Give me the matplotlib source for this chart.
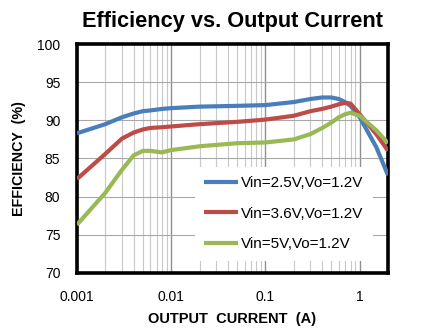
import numpy as np
import matplotlib
matplotlib.use('Agg')
from matplotlib import pyplot as plt
from matplotlib.ticker import LogLocator, FixedLocator, NullFormatter

plt.rcParams['font.family'] = ['Liberation Sans', 'DejaVu Sans']

# данные
current = [0.001, 0.002, 0.003, 0.004, 0.005, 0.006, 0.008, 0.01, 0.02, 0.05,
           0.1, 0.2, 0.3, 0.4, 0.5, 0.6, 0.7, 0.8, 1.0, 1.5, 2.0]
eff_25 = [88.3, 89.5, 90.4, 90.9, 91.2, 91.3, 91.5, 91.6, 91.8, 91.9,
          92.0, 92.4, 92.8, 93.0, 93.0, 92.8, 92.4, 91.9, 90.4, 86.5, 82.8]
eff_36 = [82.3, 85.6, 87.6, 88.4, 88.8, 89.0, 89.1, 89.2, 89.5, 89.8,
          90.1, 90.6, 91.2, 91.5, 91.8, 92.1, 92.3, 92.2, 90.8, 88.2, 86.0]
eff_5 = [76.3, 80.5, 83.5, 85.4, 86.0, 86.0, 85.8, 86.1, 86.6, 87.0,
         87.1, 87.5, 88.2, 89.0, 89.7, 90.4, 90.8, 91.0, 90.6, 88.7, 87.0]
labels = ['Vin=2.5V,Vo=1.2V', 'Vin=3.6V,Vo=1.2V', 'Vin=5V,Vo=1.2V']
colors = ['#4a7ebb', '#be4b48', '#98b954']

fig = plt.figure(figsize=(4.25, 3.34), dpi=100)
ax = fig.add_axes([0.181, 0.183, 0.732, 0.685])

for y, lab, c in zip([eff_25, eff_36, eff_5], labels, colors):
    ax.plot(current, y, color=c, lw=3, label=lab, solid_capstyle='butt',
            solid_joinstyle='round', zorder=3)

ax.set_xscale('log')
ax.set_xlim(0.001, 2)
ax.set_ylim(70, 100)
ax.set_yticks(range(70, 101, 5))
ax.xaxis.set_major_locator(FixedLocator([0.001, 0.01, 0.1, 1]))
ax.set_xticklabels(['0.001', '0.01', '0.1', '1'])
ax.xaxis.set_minor_locator(LogLocator(base=10, subs=np.arange(2, 10)))
ax.xaxis.set_minor_formatter(NullFormatter())

# сетка
ax.grid(which='major', axis='x', color='#909090', lw=1.0)
ax.grid(which='minor', axis='x', color='#c8c8c8', lw=0.8)
ax.grid(which='major', axis='y', color='#a8a8a8', lw=0.8)
ax.set_axisbelow(True)

ax.tick_params(which='both', length=0, labelsize=10)
ax.tick_params(axis='x', pad=12)
ax.tick_params(axis='y', pad=12)
for s in ax.spines.values():
    s.set_linewidth(2.6)
    s.set_color('black')

ax.set_title('Efficiency vs. Output Current', fontsize=15.7, fontweight='bold', pad=12)
ax.set_xlabel('OUTPUT  CURRENT  (A)', fontsize=10.5, fontweight='bold', labelpad=6)
ax.set_ylabel('EFFICIENCY  (%)', fontsize=10.3, fontweight='bold', labelpad=8)

leg = ax.legend(loc='lower right', bbox_to_anchor=(0.975, 0.02), fontsize=11,
                frameon=True, fancybox=False, edgecolor='none', facecolor='white',
                framealpha=1, handlelength=2.2, handletextpad=0.2,
                labelspacing=1.1, borderpad=0.6)
leg.set_zorder(2)

fig.savefig('out.png', dpi=100)
